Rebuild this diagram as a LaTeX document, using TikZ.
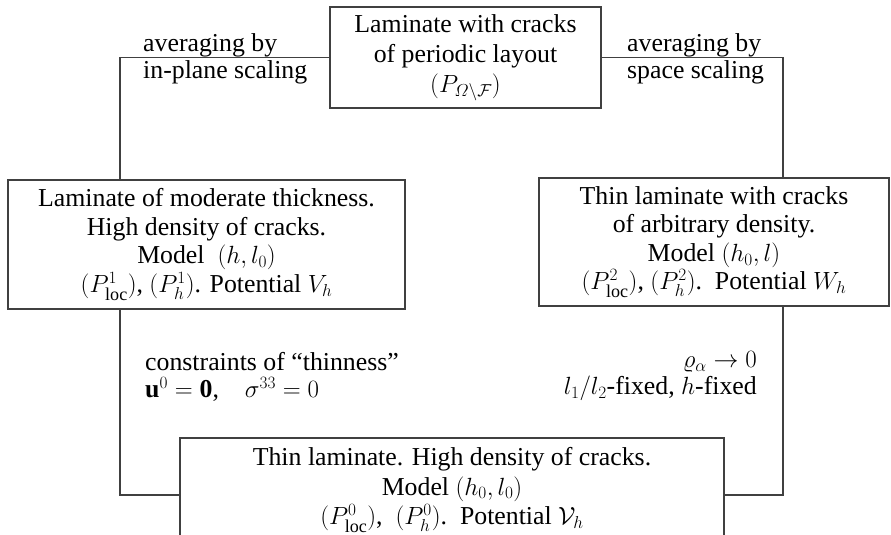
\documentclass[tikz,border=0pt]{standalone}
\usepackage{amsmath,amssymb}
\usepackage{fontspec}
\setmainfont{Liberation Serif}
\lineskiplimit=-100pt
\lineskip=0pt
\begin{document}
\begin{tikzpicture}[x=1pt,y=-1pt,
  box/.style={draw=black!75, line width=1.3pt, align=center, inner sep=0pt, font=\fontsize{25.8}{28.5}\selectfont},
  conn/.style={draw=black!75, line width=1.3pt},
  lbl/.style={inner sep=0pt, font=\fontsize{25.8}{27}\selectfont}]
\useasboundingbox (0,0) rectangle (891,535);
\clip (0,0) rectangle (891,535);
\node[box, minimum width=271pt, minimum height=101pt, font=\fontsize{25.8}{30}\selectfont] (top) at (465.5,57.5)
  {Laminate with cracks\\ of periodic layout\\ $(P_{\varOmega\setminus\mathcal{F}})$};
\node[box, minimum width=397pt, minimum height=129pt] (left) at (206.5,244.5)
  {Laminate of moderate thickness.\\ High density of cracks.\\ Model\ \ $(h,l_0)$\\ $(P^1_{\mathrm{loc}})$, $(P^1_h)$. Potential $V_h$};
\node[box, minimum width=350pt, minimum height=128pt] (right) at (714,242)
  {Thin laminate with cracks\\ of arbitrary density.\\ Model $(h_0,l)$\\ $(P^2_{\mathrm{loc}})$, $(P^2_h)$.\ \ Potential $W_h$};
\node[box, minimum width=544pt, minimum height=104pt, font=\fontsize{25.8}{29.5}\selectfont] (bot) at (452,490)
  {Thin laminate. High density of cracks.\\ Model $(h_0,l_0)$\\ $(P^0_{\mathrm{loc}})$,\ \ $(P^0_h)$.\ \ Potential $\mathcal{V}_h$};
\node[lbl, anchor=west, align=left] (l1) at (143,58.5) {averaging by\\in-plane scaling};
\node[lbl, anchor=west, align=left] (l2) at (627,58.5) {averaging by\\space scaling};
\node[lbl, anchor=west, align=left] (l3) at (145,376.5) {constraints of ``thinness''\\ $\mathbf{u}^0=\mathbf{0}$,\quad $\sigma^{33}=0$};
\node[lbl, anchor=east, align=right] (l4) at (757,376.5) {$\varrho_\alpha\to 0$\\ $l_1/l_2$-fixed, $h$-fixed};
\coordinate (lx) at (120,0);
\coordinate (rx) at (783,0);
\coordinate (lb) at (120,495);
\coordinate (rb) at (783,495);
\draw[conn] (top.west) -| (left.north -| lx);
\draw[conn] (top.east) -| (right.north -| rx);
\draw[conn] (left.south -| lx) |- (bot.west |- lb);
\draw[conn] (right.south -| rx) |- (bot.east |- rb);
\end{tikzpicture}
\end{document}
